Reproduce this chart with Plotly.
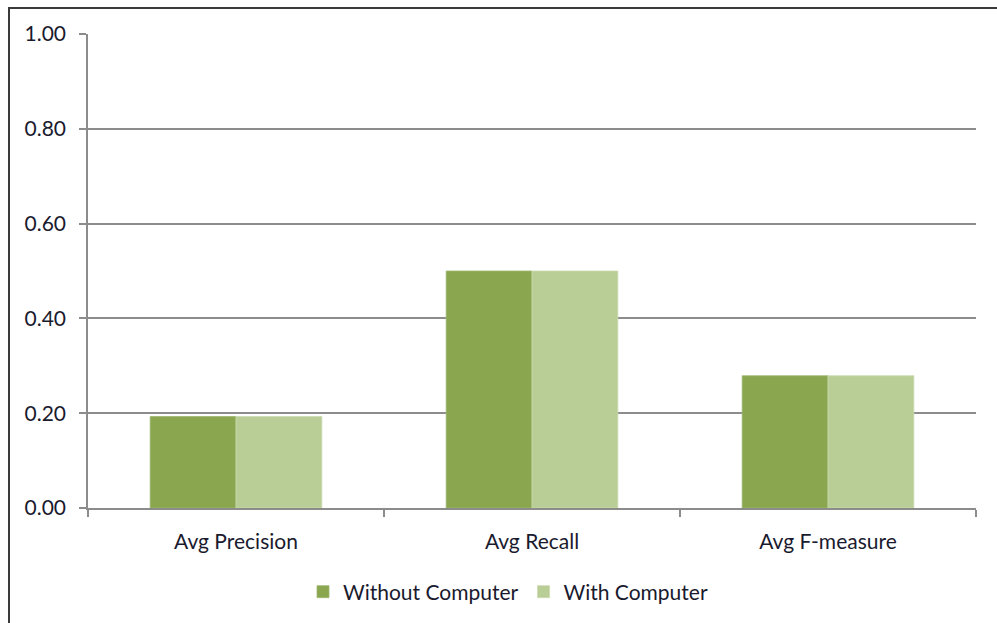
import plotly.graph_objects as go

categories = ["Avg Precision", "Avg Recall", "Avg F-measure"]
without_computer = [0.193, 0.50, 0.279]
with_computer = [0.193, 0.50, 0.279]
y_ticks = [0.0, 0.2, 0.4, 0.6, 0.8, 1.0]
y_tick_labels = ["0.00", "0.20", "0.40", "0.60", "0.80", "1.00"]

font_family = "Lato, Carlito, Liberation Sans, sans-serif"
text_color = "#1a1a2e"
grid_color = "#8c8c8c"

fig = go.Figure()
fig.add_trace(go.Bar(x=categories, y=without_computer, name="Without Computer",
                     marker=dict(color="#8aa64f", line=dict(color="#9fb872", width=0.8))))
fig.add_trace(go.Bar(x=categories, y=with_computer, name="With Computer",
                     marker=dict(color="#b9cd96", line=dict(color="#cbdab0", width=0.8))))

L, R, T, B = 88, 976, 34, 509
W, H = 997, 623
pw, ph = R - L, B - T

fig.update_layout(
    width=W, height=H,
    margin=dict(l=L, r=W - R, t=T, b=H - B, pad=0),
    paper_bgcolor="white", plot_bgcolor="white",
    barmode="group", bargap=0.42, bargroupgap=0,
    font=dict(family=font_family, color=text_color, size=21),
    showlegend=True,
    legend=dict(orientation="h", x=(508 - L) / pw, xanchor="center",
                y=-(592 - B) / ph, yanchor="middle",
                font=dict(size=21, family=font_family, color=text_color),
                itemwidth=30, tracegroupgap=0, traceorder="normal"),
    xaxis=dict(showgrid=False, showline=True, linecolor=grid_color, linewidth=1.5,
               ticks="outside", tickson="boundaries", ticklen=7, tickcolor=grid_color,
               tickwidth=1.5, tickfont=dict(size=21), ticklabelstandoff=14,
               fixedrange=True),
    yaxis=dict(range=[0, 1.0], tickvals=y_ticks, ticktext=y_tick_labels,
               showgrid=True, gridcolor=grid_color, gridwidth=1.5,
               showline=True, linecolor=grid_color, linewidth=1.5,
               ticks="outside", ticklen=7, tickcolor=grid_color, tickwidth=1.5,
               zeroline=False, tickfont=dict(size=21), ticklabelstandoff=9,
               fixedrange=True),
    shapes=[dict(type="rect", xref="paper", yref="paper",
                 x0=(9 - L) / pw, x1=(W + 20 - L) / pw,
                 y0=-(H + 20 - B) / ph, y1=(B - 8) / ph,
                 line=dict(color="#3a3a3a", width=2), fillcolor="rgba(0,0,0,0)",
                 layer="above")],
)

fig.write_html("out.html")
